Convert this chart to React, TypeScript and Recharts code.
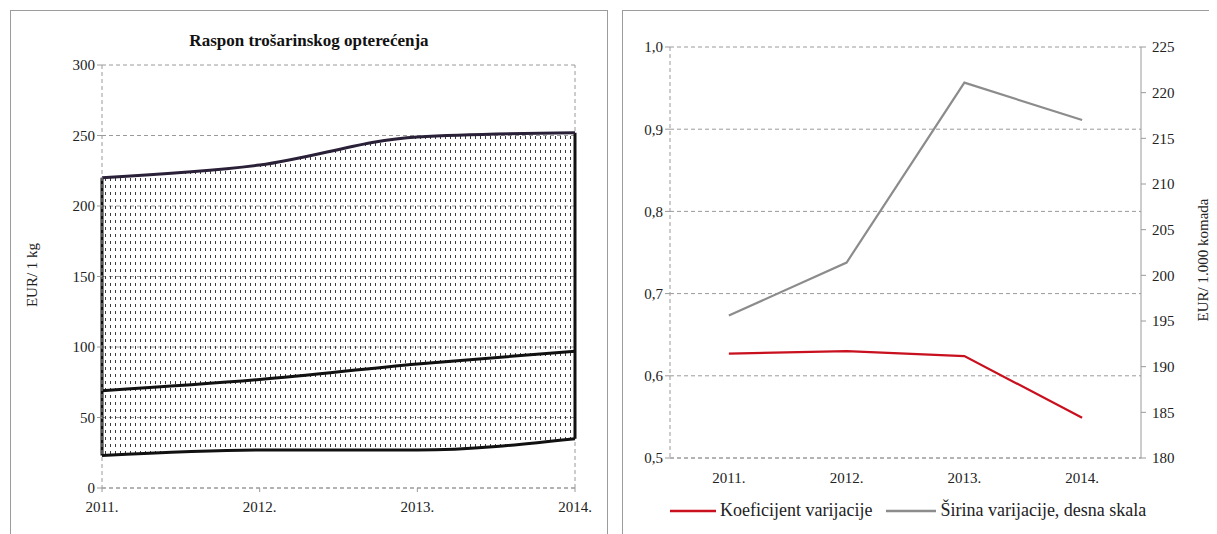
import {
  ComposedChart,
  LineChart,
  Area,
  Line,
  XAxis,
  YAxis,
  CartesianGrid,
  ReferenceLine,
} from 'recharts';

const years = ['2011.', '2012.', '2013.', '2014.'];

// left panel: excise burden range, EUR per kg
const maxBurden = [220, 229, 249, 252];
const midBurden = [69, 77, 88, 97];
const minBurden = [23, 27, 27, 35];
const burdenTicks = [0, 50, 100, 150, 200, 250, 300];

// right panel
const coefVariation = [0.627, 0.63, 0.624, 0.549];
const rangeVariation = [195.6, 201.4, 221.1, 217.0];
const coefTicks = [0.5, 0.6, 0.7, 0.8, 0.9, 1.0];
const rangeTicks = [180, 185, 190, 195, 200, 205, 210, 215, 220, 225];

const serif = '"Liberation Serif", "DejaVu Serif", serif';
const gridColor = '#9a9a9a';
const tickStyle = { fill: '#222', fontSize: 15, fontFamily: serif };

const burdenData = years.map((year, i) => ({
  year,
  max: maxBurden[i],
  mid: midBurden[i],
  min: minBurden[i],
}));

const variationData = years.map((year, i) => ({
  year,
  coef: coefVariation[i],
  range: rangeVariation[i],
}));

const first = years[0];
const last = years[years.length - 1];

const panel: React.CSSProperties = {
  position: 'absolute',
  top: 2,
  height: 560,
  border: '1px solid #9c9c9c',
  boxSizing: 'border-box',
  background: '#fff',
};

export default function App() {
  return (
    <div style={{ position: 'relative', width: 1209, height: 526, overflow: 'hidden', fontFamily: serif }}>
      <div style={{ ...panel, left: 2, width: 598 }} />
      <div style={{ ...panel, left: 614, width: 620 }} />

      <div
        style={{
          position: 'absolute',
          left: 2,
          width: 598,
          top: 23,
          textAlign: 'center',
          fontWeight: 'bold',
          fontSize: 17,
          color: '#111',
        }}
      >
        Raspon trošarinskog opterećenja
      </div>

      <div
        style={{
          position: 'absolute',
          left: 24,
          top: 267,
          transform: 'translate(-50%, -50%) rotate(-90deg)',
          fontSize: 15,
          whiteSpace: 'nowrap',
          color: '#222',
        }}
      >
        EUR/ 1 kg
      </div>

      <div style={{ position: 'absolute', left: 0, top: 0 }}>
        <ComposedChart
          width={600}
          height={526}
          data={burdenData}
          margin={{ top: 57, right: 33, left: 44, bottom: 10 }}
        >
          <defs>
            <pattern id="dots" width="5" height="7" patternUnits="userSpaceOnUse">
              <rect x="2" y="2" width="1" height="3" fill="#3a3a3a" />
            </pattern>
          </defs>
          <CartesianGrid vertical={false} stroke={gridColor} strokeDasharray="4 3" />
          <XAxis
            dataKey="year"
            height={36}
            axisLine={{ stroke: gridColor, strokeDasharray: '4 3' }}
            tickLine={{ stroke: gridColor }}
            tickSize={4}
            tickMargin={9}
            tick={tickStyle}
            interval={0}
          />
          <YAxis
            width={50}
            domain={[0, 300]}
            ticks={burdenTicks}
            axisLine={{ stroke: gridColor, strokeDasharray: '4 3' }}
            tickLine={{ stroke: gridColor }}
            tickSize={5}
            tick={tickStyle}
          />
          <ReferenceLine x={last} stroke={gridColor} strokeDasharray="4 3" />
          <Area
            dataKey={(d: { min: number; max: number }) => [d.min, d.max]}
            type="monotone"
            fill="url(#dots)"
            fillOpacity={1}
            stroke="none"
            isAnimationActive={false}
          />
          <ReferenceLine
            segment={[
              { x: first, y: minBurden[0] },
              { x: first, y: maxBurden[0] },
            ]}
            stroke="#111"
            strokeWidth={3}
          />
          <ReferenceLine
            segment={[
              { x: last, y: minBurden[years.length - 1] },
              { x: last, y: maxBurden[years.length - 1] },
            ]}
            stroke="#111"
            strokeWidth={3}
          />
          <Line dataKey="max" type="monotone" stroke="#2a2038" strokeWidth={3} dot={false} isAnimationActive={false} />
          <Line dataKey="mid" type="monotone" stroke="#111" strokeWidth={3} dot={false} isAnimationActive={false} />
          <Line dataKey="min" type="monotone" stroke="#111" strokeWidth={3} dot={false} isAnimationActive={false} />
        </ComposedChart>
      </div>

      <div
        style={{
          position: 'absolute',
          left: 1195,
          top: 252,
          transform: 'translate(-50%, -50%) rotate(-90deg)',
          fontSize: 15,
          whiteSpace: 'nowrap',
          color: '#222',
        }}
      >
        EUR/ 1.000 komada
      </div>

      <div style={{ position: 'absolute', left: 614, top: 0 }}>
        <LineChart
          width={595}
          height={526}
          data={variationData}
          margin={{ top: 39, right: 22, left: 4, bottom: 46 }}
        >
          <CartesianGrid vertical={false} stroke={gridColor} strokeDasharray="4 3" yAxisId="coef" />
          <XAxis
            dataKey="year"
            height={30}
            axisLine={{ stroke: gridColor, strokeDasharray: '4 3' }}
            tickLine={false}
            tick={tickStyle}
            tickMargin={8}
            interval={0}
            padding={{ left: 0, right: 0 }}
            scale="band"
          />
          <YAxis
            yAxisId="coef"
            width={44}
            domain={[0.5, 1.0]}
            ticks={coefTicks}
            tickFormatter={(v: number) => v.toFixed(1).replace('.', ',')}
            axisLine={{ stroke: gridColor, strokeDasharray: '4 3' }}
            tickLine={{ stroke: gridColor }}
            tickSize={5}
            tick={tickStyle}
          />
          <YAxis
            yAxisId="range"
            orientation="right"
            width={54}
            domain={[180, 225]}
            ticks={rangeTicks}
            axisLine={{ stroke: gridColor }}
            tickLine={{ stroke: gridColor }}
            tickSize={5}
            tickMargin={6}
            tick={tickStyle}
          />
          <Line yAxisId="range" dataKey="range" stroke="#8c8c8c" strokeWidth={2.2} dot={false} isAnimationActive={false} />
          <Line yAxisId="coef" dataKey="coef" stroke="#c8101e" strokeWidth={2.2} dot={false} isAnimationActive={false} />
        </LineChart>
      </div>

      <div
        style={{
          position: 'absolute',
          left: 662,
          top: 492,
          display: 'flex',
          alignItems: 'center',
          fontSize: 18,
          color: '#222',
        }}
      >
        <svg width={46} height={4} style={{ marginRight: 4 }}>
          <line x1={0} y1={2} x2={46} y2={2} stroke="#c8101e" strokeWidth={2.5} />
        </svg>
        <span>Koeficijent varijacije</span>
        <svg width={50} height={4} style={{ marginLeft: 14, marginRight: 4 }}>
          <line x1={0} y1={2} x2={50} y2={2} stroke="#8c8c8c" strokeWidth={2.5} />
        </svg>
        <span>Širina varijacije, desna skala</span>
      </div>
    </div>
  );
}
